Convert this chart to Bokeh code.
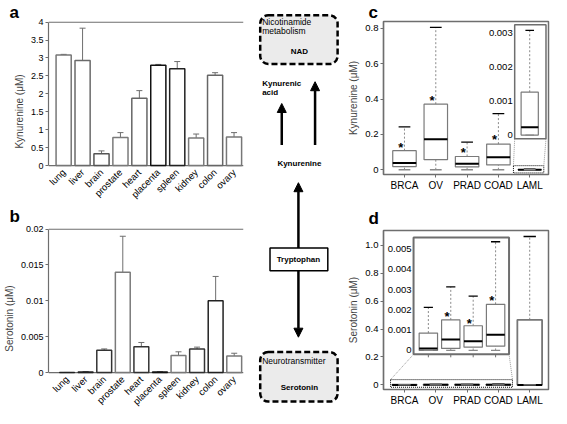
import numpy as np
from bokeh.plotting import figure
from bokeh.models import (Range1d, FixedTicker, Arrow, NormalHead,
                          ColumnDataSource, Whisker, TeeHead)
from bokeh.layouts import row, column
from bokeh.embed import file_html
from bokeh.resources import INLINE
from bokeh.core.properties import value

FONT = "Liberation Sans"
GREY = "#6e6e6e"

# ---------------- data ----------------
tissues = ["lung", "liver", "brain", "prostate", "heart", "placenta",
           "spleen", "kidney", "colon", "ovary"]
kyn_tissue_mean = [3.08, 2.93, 0.33, 0.78, 1.88, 2.80, 2.70, 0.77, 2.52, 0.80]
kyn_tissue_err = [0.02, 0.90, 0.08, 0.14, 0.21, 0.02, 0.20, 0.11, 0.07, 0.12]
ser_tissue_mean = [0.00002, 0.0001, 0.0031, 0.0140, 0.0036, 0.0001,
                   0.0024, 0.0033, 0.0100, 0.0023]
ser_tissue_err = [0.0, 0.00005, 0.0002, 0.0050, 0.0006, 0.0,
                  0.0005, 0.00025, 0.0034, 0.0004]
kyn_ticks = [0, 0.5, 1, 1.5, 2, 2.5, 3, 3.5, 4]
kyn_tick_labels = ["0", "0.5", "1", "1.5", "2", "2.5", "3", "3.5", "4"]
ser_ticks = [0, 0.005, 0.01, 0.015, 0.02]
ser_tick_labels = ["0", "0.005", "0.01", "0.015", "0.02"]

cancers = ["BRCA", "OV", "PRAD", "COAD", "LAML"]
kyn_lo = [0.0, 0.0, 0.0, 0.0, 0.0]
kyn_q1 = [0.018, 0.057, 0.016, 0.027, 0.0]
kyn_med = [0.038, 0.172, 0.034, 0.070, 0.00023]
kyn_q3 = [0.108, 0.371, 0.075, 0.145, 0.00126]
kyn_hi = [0.242, 0.806, 0.156, 0.317, 0.00308]
kyn_star_cats = ["BRCA", "OV", "PRAD", "COAD"]
kyn_star_y = [0.127, 0.390, 0.095, 0.172]

ser_lo = [0.0, 0.0, 0.0, 0.0, 0.0]
ser_q1 = [0.0, 0.0001, 0.00016, 0.00021, 0.0]
ser_med = [0.0001, 0.00054, 0.00046, 0.00078, 0.0]
ser_q3 = [0.00086, 0.00151, 0.00122, 0.00228, 0.466]
ser_hi = [0.00213, 0.00314, 0.00268, 0.00537, 1.062]
ser_star_cats = ["OV", "PRAD", "COAD"]
ser_star_y = [0.00167, 0.00135, 0.00246]

c_ticks = [0, 0.2, 0.4, 0.6, 0.8]
c_tick_labels = ["0", "0.2", "0.4", "0.6", "0.8"]
c_inset_ticks = [0, 0.001, 0.002, 0.003]
c_inset_labels = ["0", "0.001", "0.002", "0.003"]
d_ticks = [0, 0.2, 0.4, 0.6, 0.8, 1.0]
d_tick_labels = ["0", "0.2", "0.4", "0.6", "0.8", "1.0"]
d_inset_ticks = [0, 0.001, 0.002, 0.003, 0.004, 0.005]
d_inset_labels = ["0", "0.001", "0.002", "0.003", "0.004", "0.005"]

bar_line_a = ["#777777", "#6a6a6a", "#555555", "#7a7a7a", "#666666",
              "#111111", "#222222", "#7a7a7a", "#666666", "#777777"]
bar_line_b = ["#222222", "#222222", "#333333", "#7a7a7a", "#333333",
              "#111111", "#7a7a7a", "#333333", "#222222", "#7a7a7a"]


def style_axes(p, tick_font="9px"):
    for ax in p.axis:
        ax.axis_line_color = GREY
        ax.axis_line_width = 1.2
        ax.major_tick_line_color = GREY
        ax.minor_tick_line_color = None
        ax.major_tick_in = 0
        ax.major_tick_out = 3
        ax.major_label_text_font = FONT
        ax.major_label_text_font_size = tick_font
        ax.major_label_text_color = "black"
        ax.axis_label_text_font = FONT
        ax.axis_label_text_font_size = "10px"
        ax.axis_label_text_font_style = "normal"
        ax.axis_label_standoff = 3
        ax.major_label_standoff = 2


def letter(p, text, dx, standoff):
    p.title.text = text
    p.title.align = "left"
    p.title.offset = dx
    p.title.standoff = standoff
    p.title.text_font = FONT
    p.title.text_font_size = "17px"
    p.title.text_font_style = "bold"
    p.title.text_color = "black"


def bar_panel(means, errs, ticks, tick_labels, ylabel, ystart, yend, xstart, ltr,
              height, left, top, line_colors, ltr_off):
    n = len(tissues)
    x = np.arange(n)
    p = figure(width=246, height=height, x_range=Range1d(xstart, n - 0.5),
               y_range=Range1d(ystart, yend * 1.004), x_axis_location=None,
               output_backend="svg", toolbar_location=None,
               min_border_left=left, min_border_right=3,
               min_border_top=top, min_border_bottom=0)
    p.grid.visible = False
    p.outline_line_color = None
    p.segment(x0=[xstart, xstart], x1=[n - 0.5, n - 0.5], y0=[0, yend], y1=[0, yend],
              line_color=GREY, line_width=1.2)
    m = np.array(means)
    e = np.array(errs)
    src = ColumnDataSource(dict(x=x, top=m, lo=m - e, hi=m + e, lc=line_colors))
    p.vbar(x="x", top="top", bottom=0, width=0.8, source=src,
           fill_color="white", line_color="lc", line_width=1.5)
    p.add_layout(Whisker(base="x", lower="lo", upper="hi", source=src,
                         line_color=GREY, line_width=1,
                         upper_head=TeeHead(size=6, line_color=GREY, line_width=1),
                         lower_head=TeeHead(size=6, line_color=GREY, line_width=1)))
    p.text(x=x, y=np.zeros(n), text=tissues, angle=np.pi / 4, text_font=value(FONT),
           text_font_size="9.5px", text_align="right", text_baseline="middle",
           x_offset=0, y_offset=5, text_color="black")
    style_axes(p)
    p.yaxis.bounds = (0, yend)
    p.yaxis.ticker = FixedTicker(ticks=ticks)
    p.yaxis.major_label_overrides = {float(t): l for t, l in zip(ticks, tick_labels)}
    p.yaxis.axis_label = ylabel
    letter(p, ltr, -left + 1, ltr_off)
    return p


pa = bar_panel(kyn_tissue_mean, kyn_tissue_err, kyn_ticks, kyn_tick_labels,
               "Kynurenine (\u03bcM)", -1.0, 4.0, -0.8, "a", 201, 40, 20, bar_line_a, 0)
pb = bar_panel(ser_tissue_mean, ser_tissue_err, ser_ticks, ser_tick_labels,
               "Serotonin (\u03bcM)", -0.005, 0.02, -1.0, "b", 207, 40, 26, bar_line_b, 6)


def boxes(r, x, lo, q1, med, q3, hi, width, box_color="#7a7a7a", box_lw=1.2):
    x = np.asarray(x, dtype=float)
    half = width / 2
    cap = half * 0.5
    r.segment(x0=x, y0=q3, x1=x, y1=hi, line_color="#8a8a8a", line_dash="2 2", line_width=1)
    r.segment(x0=x, y0=lo, x1=x, y1=q1, line_color="#8a8a8a", line_dash="2 2", line_width=1)
    r.quad(left=x - half, right=x + half, bottom=q1, top=q3, fill_color="white",
           line_color=box_color, line_width=box_lw)
    r.segment(x0=x - half, y0=med, x1=x + half, y1=med, line_color="black", line_width=2)
    r.segment(x0=x - cap, y0=hi, x1=x + cap, y1=hi, line_color="black", line_width=1.3)
    r.segment(x0=x - cap, y0=lo, x1=x + cap, y1=lo, line_color="#8a8a8a", line_width=1.3)


def box_fig(height, yr, top, bottom, ticks, labels, ylabel, ltr, ltr_off):
    xc = np.arange(len(cancers))
    p = figure(width=209, height=height, x_range=Range1d(-0.67, 4.6), y_range=yr,
               output_backend="svg", toolbar_location=None, min_border_left=41,
               min_border_right=3, min_border_top=top, min_border_bottom=bottom)
    p.grid.visible = False
    p.outline_line_color = GREY
    p.outline_line_width = 1.5
    style_axes(p, "9.5px")
    p.xaxis.ticker = FixedTicker(ticks=[int(i) for i in xc])
    p.xaxis.major_label_overrides = {int(i): t for i, t in zip(xc, cancers)}
    p.xaxis.major_label_text_font_size = "10px"
    p.yaxis.ticker = FixedTicker(ticks=ticks)
    p.yaxis.major_label_overrides = {float(t): l for t, l in zip(ticks, labels)}
    p.yaxis.axis_label = ylabel
    letter(p, ltr, -15, ltr_off)
    return p, xc


def star(r, x, y, dx):
    r.text(x=np.asarray(x, float) + dx, y=y, text=["*"] * len(y), text_font=value(FONT),
           text_font_size="13px", text_font_style="bold", text_align="center",
           text_baseline="middle", text_color="black")


# ---- panel c ----
pc, xc = box_fig(203, Range1d(-0.027, 0.839), 13, 29, c_ticks, c_tick_labels,
                 "Kynurenine (\u03bcM)", "c", 0)
boxes(pc, xc, kyn_lo, kyn_q1, kyn_med, kyn_q3, kyn_hi, 0.75)
pc.quad(left=3.48, right=4.45, bottom=-0.018, top=0.023, fill_color=None,
        line_color="black", line_dash="1 1", line_width=1)
c_in_xt = Range1d(3.52, 4.52)
c_in_yt = Range1d(0.175, 0.82)
c_in_xs = Range1d(3.52, 4.52)
c_in_ys = Range1d(-0.00011, 0.00324)
pc.segment(x0=[c_in_xt.start, c_in_xt.end], y0=[c_in_yt.start] * 2,
           x1=[3.48, 4.45], y1=[0.023, 0.023], line_color="#9a9a9a",
           line_dash="1 1", line_width=1)
pc.quad(left=c_in_xt.start, right=c_in_xt.end, bottom=c_in_yt.start, top=c_in_yt.end,
        fill_color="white", line_color=GREY, line_width=1.5)
csub = pc.subplot(x_source=c_in_xs, y_source=c_in_ys, x_target=c_in_xt, y_target=c_in_yt)
boxes(csub, xc[4:], kyn_lo[4:], kyn_q1[4:], kyn_med[4:], kyn_q3[4:], kyn_hi[4:], 0.55)
csub.text(x=np.full(len(c_inset_ticks), c_in_xs.start), y=c_inset_ticks, text=c_inset_labels,
          text_font=value(FONT), text_font_size="9.5px", text_align="right",
          text_baseline="middle", x_offset=-2, text_color="black")
star(pc, [cancers.index(c) for c in kyn_star_cats], kyn_star_y, -0.12)

# ---- panel d ----
pd_, _ = box_fig(205, Range1d(-0.033, 1.105), 25, 19, d_ticks, d_tick_labels,
                 "Serotonin (\u03bcM)", "d", 6)
boxes(pd_, xc, ser_lo, ser_q1, ser_med, ser_q3, ser_hi, 0.79, box_color="#777777", box_lw=1.8)
pd_.quad(left=-0.445, right=3.45, bottom=-0.017, top=0.0375, fill_color=None,
         line_color="black", line_dash="1 1", line_width=1)
d_in_xt = Range1d(0.29, 3.34)
d_in_yt = Range1d(0.219, 1.055)
d_in_xs = Range1d(-0.66, 3.6)
d_in_ys = Range1d(-0.00019, 0.00558)
pd_.segment(x0=[d_in_xt.start, d_in_xt.end], y0=[d_in_yt.start] * 2,
            x1=[-0.445, 3.45], y1=[0.0375, 0.0375], line_color="#9a9a9a",
            line_dash="1 1", line_width=1)
pd_.quad(left=d_in_xt.start, right=d_in_xt.end, bottom=d_in_yt.start, top=d_in_yt.end,
         fill_color="white", line_color=GREY, line_width=2)
dsub = pd_.subplot(x_source=d_in_xs, y_source=d_in_ys, x_target=d_in_xt, y_target=d_in_yt)
boxes(dsub, xc[:4], ser_lo[:4], ser_q1[:4], ser_med[:4], ser_q3[:4], ser_hi[:4], 0.82)
dsub.segment(x0=xc[:4].astype(float), y0=[d_in_ys.start] * 4, x1=xc[:4].astype(float),
             y1=[d_in_ys.start - 0.00015] * 4, line_color=GREY, line_width=1)
dsub.text(x=np.full(len(d_inset_ticks), d_in_xs.start), y=d_inset_ticks, text=d_inset_labels,
          text_font=value(FONT), text_font_size="9.5px", text_align="right",
          text_baseline="middle", x_offset=-2, text_color="black")
star(dsub, [cancers.index(c) for c in ser_star_cats], ser_star_y, -0.17)

# ---- pathway diagram ----
pg = figure(width=96, height=408, x_range=Range1d(252, 350), y_range=Range1d(412, 0),
            x_axis_location=None, y_axis_location=None, min_border=0,
            output_backend="svg", toolbar_location=None)
pg.outline_line_color = None
pg.grid.visible = False
pg.quad(left=[266, 266], right=[345, 345], top=[15, 355], bottom=[64, 405],
        fill_color="#ebebeb", line_color="black", line_dash="6 3", line_width=2.5,
        border_radius=8)
for xs, ys, xe, ye in [(288, 146, 288, 104), (322, 146, 322, 82),
                       (305, 250, 305, 184), (305, 273, 305, 340)]:
    pg.add_layout(Arrow(end=NormalHead(size=9, fill_color="black", line_color="black"),
                        x_start=xs, y_start=ys, x_end=xe, y_end=ye,
                        line_width=2.5, line_color="black"))
pg.quad(left=[276], right=[335], top=[250], bottom=[273], fill_color="white",
        line_color="black", line_width=1.5)
pg.text(x=[268, 268, 268], y=[22, 31, 364],
        text=["Nicotinamide", "metabolism", "Neurotransmitter"],
        text_font=value(FONT), text_font_size="8.5px", text_align="left",
        text_baseline="middle", text_color="black")
pg.text(x=[268, 268], y=[84, 93], text=["Kynurenic", "acid"],
        text_font=value(FONT), text_font_size="8px", text_font_style="bold",
        text_align="left", text_baseline="middle", text_color="black")
pg.text(x=[306, 306, 305, 306], y=[52, 165, 261.5, 391],
        text=["NAD", "Kynurenine", "Tryptophan", "Serotonin"],
        text_font=value(FONT), text_font_size="8px", text_font_style="bold",
        text_align="center", text_baseline="middle", text_color="black")

layout = row(column(pa, pb), pg, column(pc, pd_))
open("out.html", "w").write(file_html(layout, INLINE, title="Kynurenine and serotonin"))
